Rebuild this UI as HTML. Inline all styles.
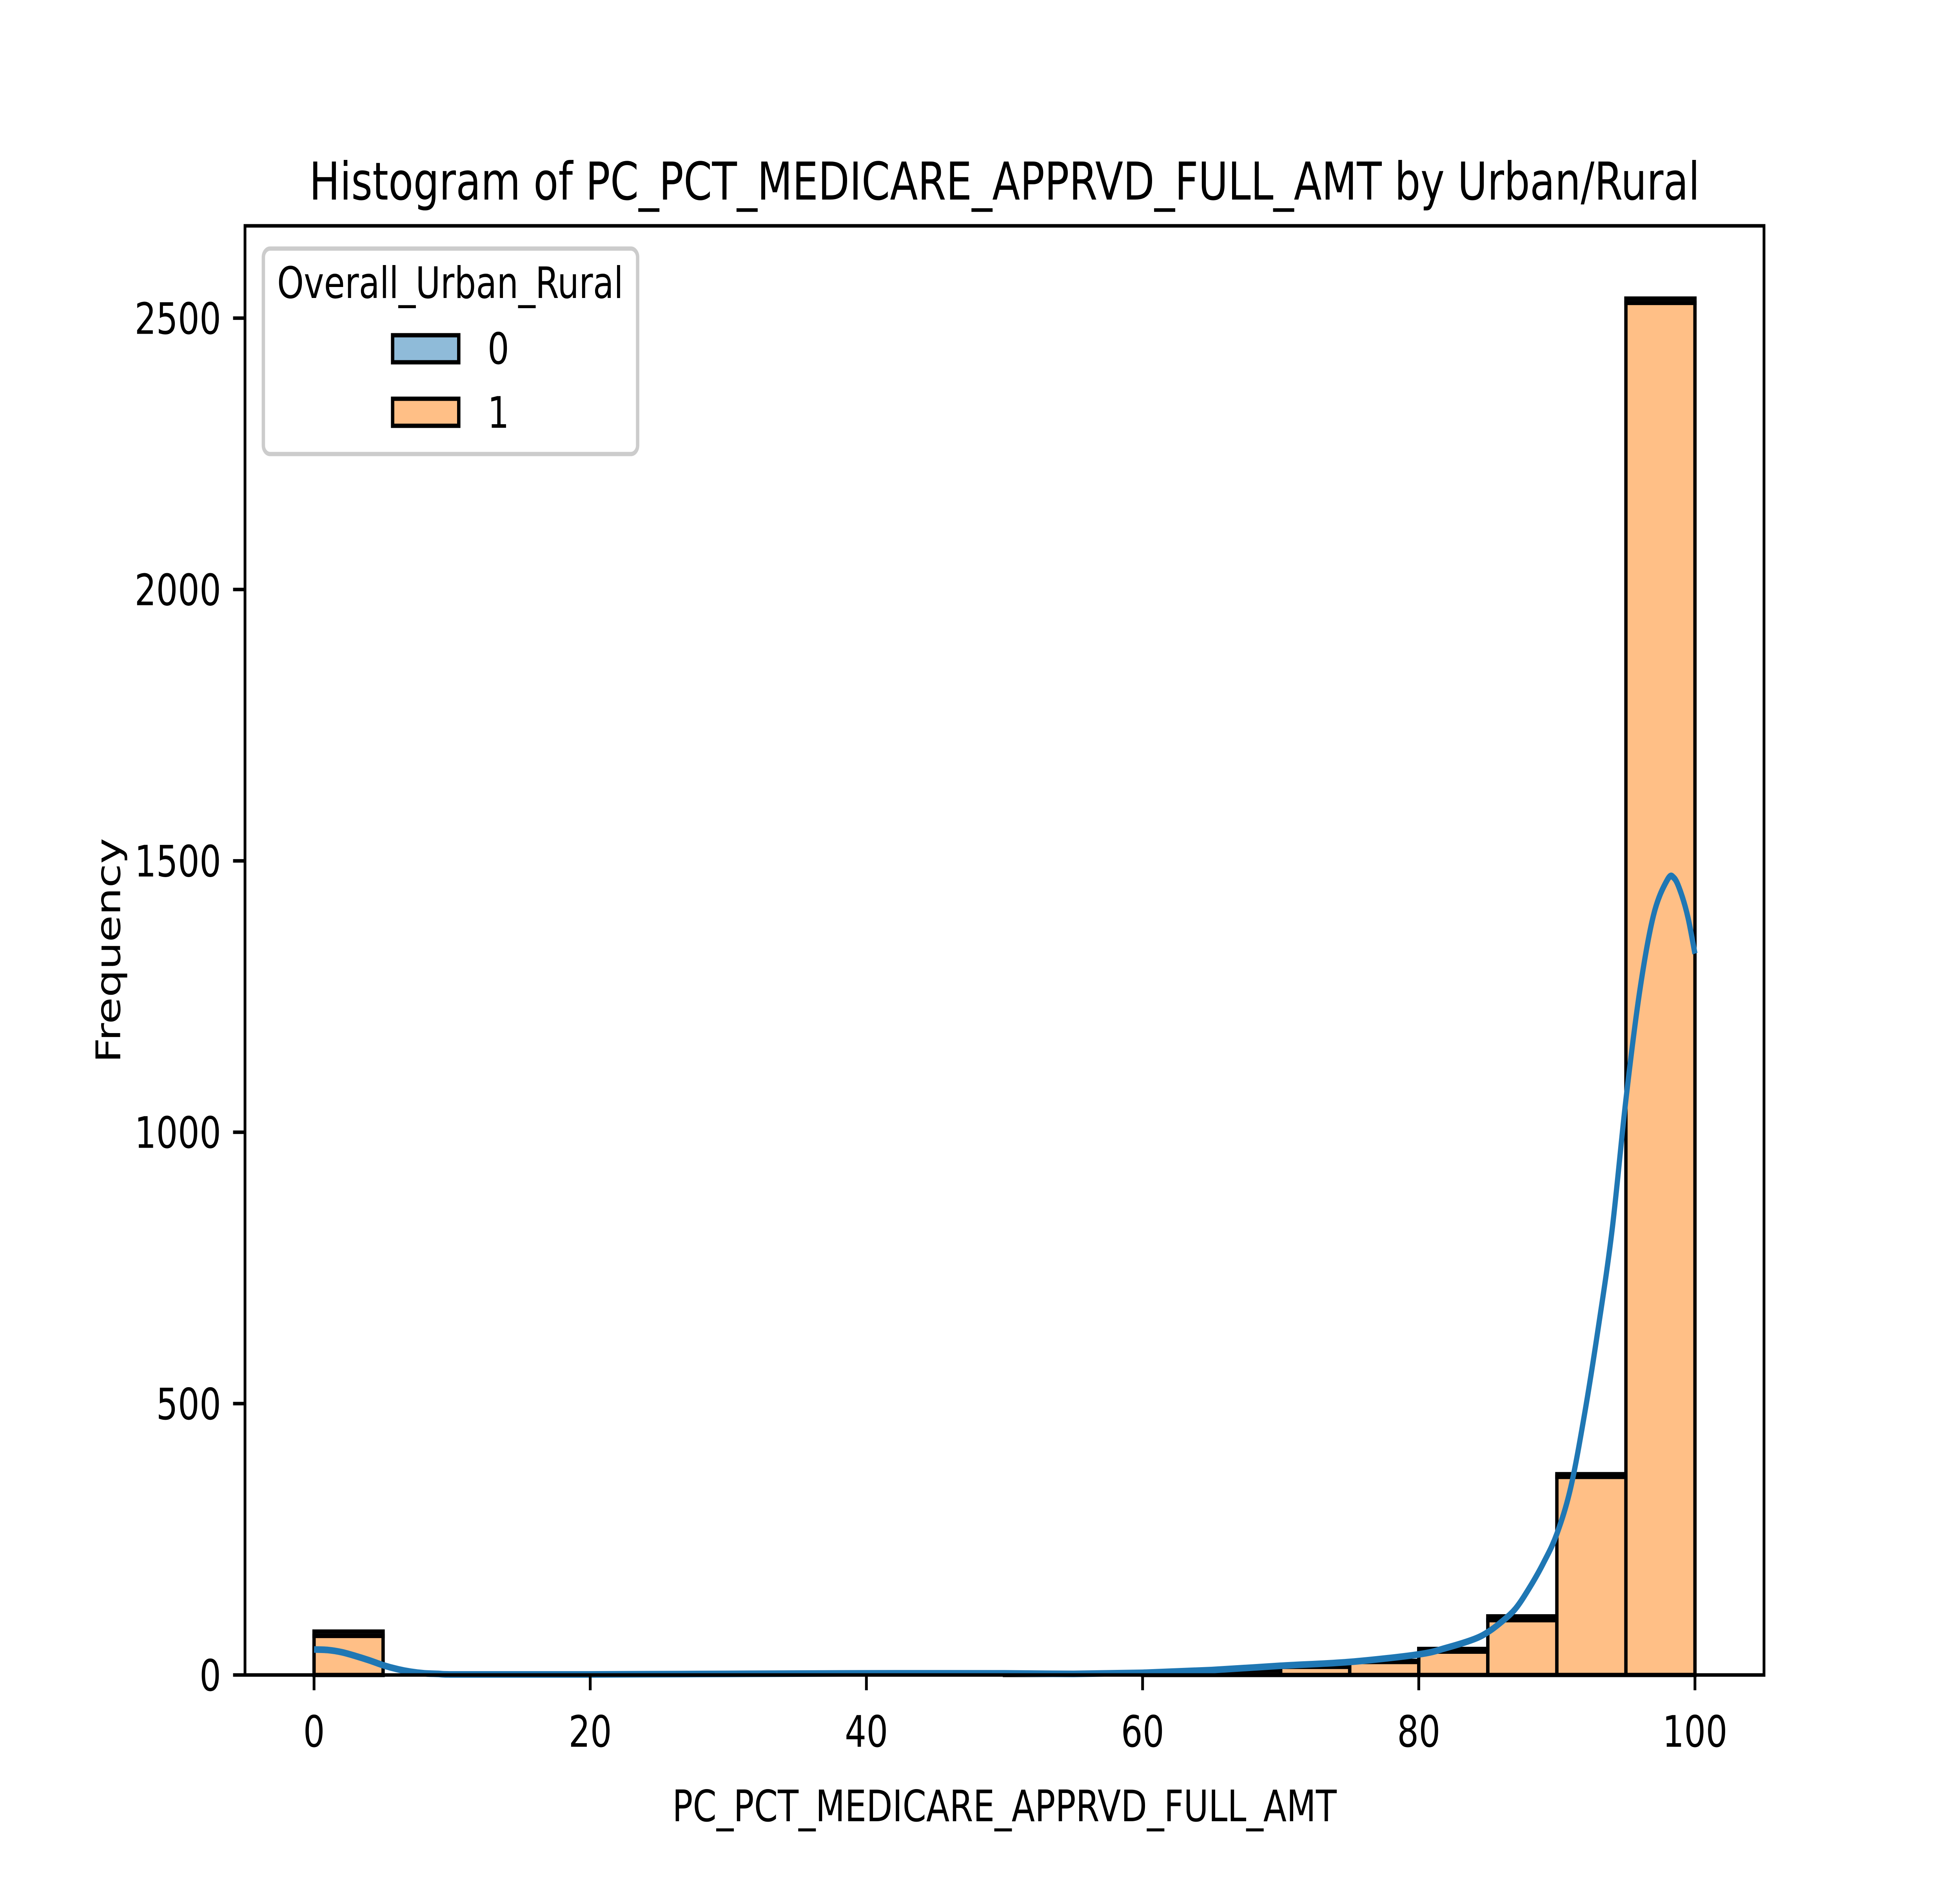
<!DOCTYPE html>
<html><head><meta charset="utf-8"><style>
html,body{margin:0;padding:0;background:#fff;width:100vw;height:100vh;overflow:hidden;}
svg{display:block;width:100vw;height:100vh;}
text{font-family:"DejaVu Sans","Liberation Sans",sans-serif;fill:#000;}
</style></head><body>
<svg id="chart" xmlns="http://www.w3.org/2000/svg" viewBox="0 0 6400 4800" preserveAspectRatio="none">
<rect x="0" y="0" width="6400" height="4800" fill="#fff"/>
<text x="3280" y="509" font-size="133" text-anchor="middle">Histogram of PC_PCT_MEDICARE_APPRVD_FULL_AMT by Urban/Rural</text>
<g id="bars"></g>
<g id="kde"></g>
<g id="axes"></g>
<text x="3280" y="4645" font-size="111" text-anchor="middle">PC_PCT_MEDICARE_APPRVD_FULL_AMT</text>
<text x="392" y="2424" font-size="111" text-anchor="middle" transform="rotate(-90 392 2424)">Frequency</text>
<g>
<rect x="860" y="634" width="1222" height="524" rx="22" ry="22" fill="#fff" fill-opacity="0.8" stroke="#cccccc" stroke-width="11"/>
<text x="1470" y="760" font-size="111" text-anchor="middle">Overall_Urban_Rural</text>
<g>
<rect x="1282" y="855" width="216" height="69" fill="#8fbbd9" stroke="#000" stroke-width="11"/>
<text x="1592" y="928" font-size="111">0</text>
</g>
<g>
<rect x="1282" y="1017" width="216" height="69" fill="#ffbf86" stroke="#000" stroke-width="11"/>
<text x="1592" y="1091" font-size="111">1</text>
</g>
</g>
</svg>
<script>
const binEdges = [0,5,10,15,20,25,30,35,40,45,50,55,60,65,70,75,80,85,90,95,100];
const countsClass1 = [72,0,0,0,0,0,0,0,0,0,2,0,3,8,15,24,43,101,365,2528];
const countsClass0 = [8,0,0,0,0,0,0,0,0,0,0,0,0,0,1,2,5,7,5,8];
const kdeX = [0,1,2,3,4,5,6,7,8,9,10,15,20,30,40,50,55,60,65,70,75,80,82,84,85,86,87,88,89,90,91,92,93,94,95,96,97,98,98.5,99,99.5,100];
const kdeY = [47,46,42,35,27,18,11,6,3,2,1,1,1,2,3,3,2,4,9,17,24,38,50,66,79,98,122,160,205,260,345,480,640,820,1060,1260,1400,1465,1468,1440,1395,1329];
const xTicks = [0,20,40,60,80,100];
const yTicks = [0,500,1000,1500,2000,2500];

const L=800,R=5760,T=576,B=4272, xmin=-5,xmax=105, ymin=0,ymax=2670;
const NS="http://www.w3.org/2000/svg";
function xs(v){return L+(v-xmin)/(xmax-xmin)*(R-L);}
function ys(v){return B-(v-ymin)/(ymax-ymin)*(B-T);}
function mk(tag,attrs,parent){const e=document.createElementNS(NS,tag);for(const k in attrs)e.setAttribute(k,attrs[k]);parent.appendChild(e);return e;}

const bars=document.getElementById('bars');
for(let i=0;i<countsClass1.length;i++){
  const x0=xs(binEdges[i]),x1=xs(binEdges[i+1]);
  const c1=countsClass1[i],c0=countsClass0[i];
  if(c1>0){
    const r=mk('rect',{x:x0,y:ys(c1),width:x1-x0,height:ys(0)-ys(c1),fill:'#ffbf86',stroke:'#000','stroke-width':11},bars);
    
    
  }
  if(c0>0){
    const r=mk('rect',{x:x0,y:ys(c1+c0),width:x1-x0,height:ys(c1)-ys(c1+c0),fill:'#8fbbd9',stroke:'#000','stroke-width':11},bars);
    
    
  }
}

const pts=kdeX.map((v,i)=>[xs(v),ys(kdeY[i])]);
let d='M'+pts[0][0]+','+pts[0][1];
for(let i=0;i<pts.length-1;i++){
  const p0=pts[i-1]||pts[i],p1=pts[i],p2=pts[i+1],p3=pts[i+2]||p2;
  const c1x=p1[0]+(p2[0]-p0[0])/6,c1y=p1[1]+(p2[1]-p0[1])/6;
  const c2x=p2[0]-(p3[0]-p1[0])/6,c2y=p2[1]-(p3[1]-p1[1])/6;
  d+=' C'+c1x+','+c1y+' '+c2x+','+c2y+' '+p2[0]+','+p2[1];
}
const kp=mk('path',{d:d,fill:'none',stroke:'#1f77b4','stroke-width':17,'stroke-linejoin':'round'},document.getElementById('kde'));



const ax=document.getElementById('axes');
const frame=mk('rect',{x:L,y:T,width:R-L,height:B-T,fill:'none',stroke:'#000','stroke-width':9},ax);


xTicks.forEach(v=>{
  const t=mk('line',{x1:xs(v),x2:xs(v),y1:B,y2:B+39,stroke:'#000','stroke-width':9},ax);
  
  
  const lb=mk('text',{x:xs(v),y:B+39+39+105,'font-size':111,'text-anchor':'middle'},ax);
  lb.textContent=String(v);
  
  
});
yTicks.forEach(v=>{
  const t=mk('line',{x1:L-39,x2:L,y1:ys(v),y2:ys(v),stroke:'#000','stroke-width':9},ax);
  
  
  const lb=mk('text',{x:L-39-39,y:ys(v)+40,'font-size':111,'text-anchor':'end'},ax);
  lb.textContent=String(v);
  
  
});
</script>
</body></html>
